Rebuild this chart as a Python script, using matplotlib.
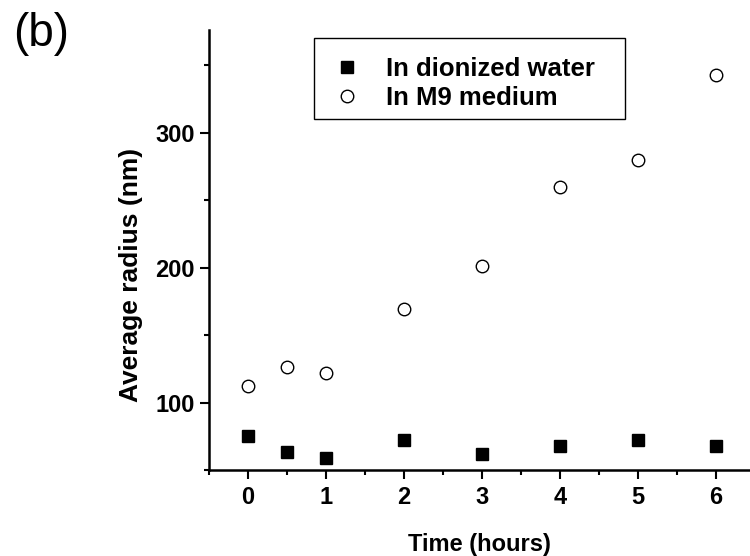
import matplotlib
matplotlib.use("Agg")
import matplotlib.pyplot as plt
from matplotlib.ticker import MultipleLocator
from matplotlib.patches import Rectangle

plt.rcParams['font.family'] = ['Liberation Sans', 'DejaVu Sans']

time_water = [0, 0.5, 1, 2, 3, 4, 5, 6]
radius_water = [75.5, 63, 59, 72.5, 62, 68, 72.5, 68]
time_m9 = [0, 0.5, 1, 2, 3, 4, 5, 6]
radius_m9 = [112, 126, 121.5, 169, 201, 260, 280, 343]

fig = plt.figure(figsize=(7.5, 5.56), dpi=100)
ax = fig.add_axes([0.2787, 0.1547, 0.7213, 0.7913])

ax.plot(time_water, radius_water, linestyle='none', marker='s', markersize=9,
        color='black', label='In dionized water')
ax.plot(time_m9, radius_m9, linestyle='none', marker='o', markersize=9,
        markerfacecolor='white', markeredgecolor='black', markeredgewidth=1.0,
        label='In M9 medium')

ax.set_xlim(-0.5, 6.44)
ax.set_ylim(50, 376)
ax.spines['top'].set_visible(False)
ax.spines['right'].set_visible(False)
for s in ('left', 'bottom'):
    ax.spines[s].set_linewidth(1.8)

ax.xaxis.set_major_locator(MultipleLocator(1))
ax.xaxis.set_minor_locator(MultipleLocator(0.5))
ax.yaxis.set_major_locator(MultipleLocator(100))
ax.yaxis.set_minor_locator(MultipleLocator(50))
ax.tick_params(which='major', direction='out', length=6.5, width=1.5,
               labelsize=17)
ax.tick_params(which='minor', direction='out', length=3.5, width=1.5)
ax.tick_params(axis='x', which='major', pad=5)
ax.tick_params(axis='y', which='major', pad=4)
for lab in ax.get_xticklabels() + ax.get_yticklabels():
    lab.set_fontweight('bold')

ax.set_xlabel('Time (hours)', fontsize=17, fontweight='bold', labelpad=17)
ax.set_ylabel('Average radius (nm)', fontsize=19, fontweight='bold')
ax.yaxis.set_label_coords(-0.122, 0.443)

leg = ax.legend(loc='upper left', bbox_to_anchor=(0.2266, 0.939), frameon=False,
                prop={'weight': 'bold', 'size': 18.5}, borderaxespad=0,
                handletextpad=0.92, borderpad=0, labelspacing=0.2, handlelength=1.2)
ax.add_patch(Rectangle((0.194, 0.798), 0.575, 0.184, transform=ax.transAxes,
                       fill=False, edgecolor='black', linewidth=1.0, zorder=5))

fig.text(13 / 750, 1 - 12 / 556, '(b)', fontsize=33, va='top', ha='left')

fig.savefig('out.png', dpi=100)
